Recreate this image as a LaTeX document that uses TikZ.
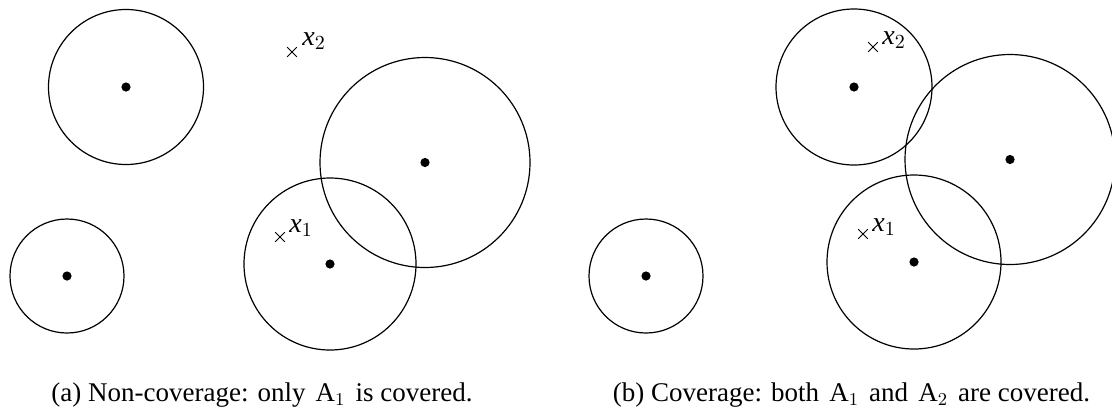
\documentclass[tikz,border=0pt]{standalone}
\usepackage{fontspec}
\setmainfont{Liberation Serif}
\newcommand{\subA}[1]{\hspace{1.7pt}A$_{#1}$\hspace{1.7pt}}
\begin{document}
\begin{tikzpicture}[x=0.5pt,y=-0.5pt,
  rangecircle/.style={draw=black,line width=0.6pt},
  sensordot/.style={fill=black},
  crossmark/.style={draw=black,line width=0.5pt},
  ptlabel/.style={anchor=base west,inner sep=0pt,font=\fontsize{14}{16}\selectfont},
  captext/.style={anchor=base,inner sep=0pt,font=\fontsize{13.5}{15}\selectfont}]
\useasboundingbox (0,0) rectangle (1112,409);
% ---------- panel (a) ----------
\coordinate (a1) at (126,87);
\coordinate (a2) at (67,276);
\coordinate (a3) at (425,162.5);
\coordinate (a4) at (330,264);
\draw[rangecircle] (a1) circle[radius=38.75pt];
\draw[rangecircle] (a2) circle[radius=28.5pt];
\draw[rangecircle] (a3) circle[radius=52.5pt];
\draw[rangecircle] (a4) circle[radius=43pt];
\foreach \c in {a1,a2,a3,a4} \fill[sensordot] (\c) circle[radius=2.3pt];
\coordinate (ax2) at (292,52);
\coordinate (ax1) at (280,237);
\foreach \c in {ax1,ax2} {
  \draw[crossmark] ([xshift=-2.4pt,yshift=-2.4pt]\c) -- ([xshift=2.4pt,yshift=2.4pt]\c);
  \draw[crossmark] ([xshift=-2.4pt,yshift=2.4pt]\c) -- ([xshift=2.4pt,yshift=-2.4pt]\c);
}
\node[ptlabel] (lax2) at (302,45) {\textit{x}$_2$};
\node[ptlabel] (lax1) at (289,232) {\textit{x}$_1$};
\node[captext] (capa) at (262,401) {(a) Non-coverage: only \subA{1} is covered.};
% ---------- panel (b) ----------
\coordinate (b1) at (854,87);
\coordinate (b2) at (646,276);
\coordinate (b3) at (1010,159.5);
\coordinate (b4) at (914,262);
\draw[rangecircle] (b1) circle[radius=39pt];
\draw[rangecircle] (b2) circle[radius=28.5pt];
\draw[rangecircle] (b3) circle[radius=52.5pt];
\draw[rangecircle] (b4) circle[radius=43.5pt];
\foreach \c in {b1,b2,b3,b4} \fill[sensordot] (\c) circle[radius=2.3pt];
\coordinate (bx2) at (873,47);
\coordinate (bx1) at (863,234);
\foreach \c in {bx1,bx2} {
  \draw[crossmark] ([xshift=-2.4pt,yshift=-2.4pt]\c) -- ([xshift=2.4pt,yshift=2.4pt]\c);
  \draw[crossmark] ([xshift=-2.4pt,yshift=2.4pt]\c) -- ([xshift=2.4pt,yshift=-2.4pt]\c);
}
\node[ptlabel] (lbx2) at (882,44.5) {\textit{x}$_2$};
\node[ptlabel] (lbx1) at (872,231.5) {\textit{x}$_1$};
\node[captext] (capb) at (851.5,401) {(b) Coverage: both \subA{1} and \subA{2} are covered.};
\end{tikzpicture}
\end{document}
